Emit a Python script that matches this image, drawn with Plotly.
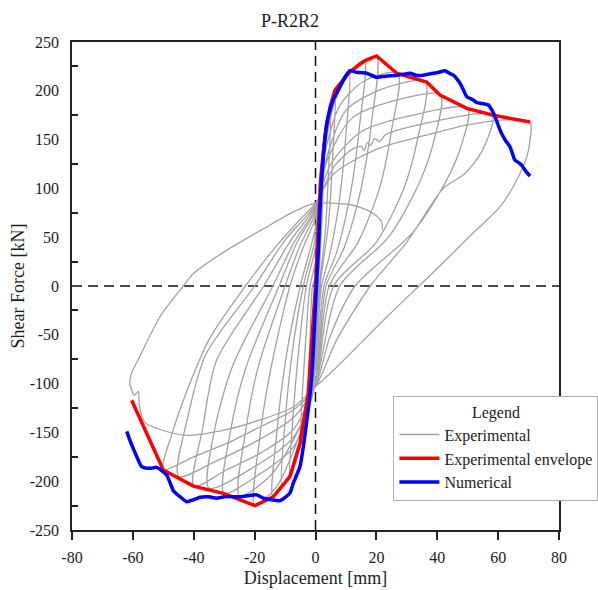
import plotly.graph_objects as go

# Experimental hysteresis loops: (displacement [mm], shear force [kN]) per cycle
cycle_01 = [(0, 0), (0.6, 35), (1.3, 75), (2, 108), (1.5, 50), (0.5, 0), (0, -20), (-1.2, -70),
            (-2.4, -110), (-1.8, -55), (-1, 0), (0, 10)]
cycle_02 = [(0, 10), (0.8, 70), (1.8, 120), (3, 153), (2.4, 90), (1.6, 35), (0.8, 0), (0, -40),
            (-1.5, -95), (-3.2, -135), (-5, -161), (-4.2, -105), (-3, -45), (-1.8, 0), (0, 25)]
cycle_03 = [(0, 25), (1, 90), (2.5, 145), (5, 184), (4.3, 120), (3.2, 55), (1.2, 0), (0, -55),
            (-2, -115), (-5, -165), (-8.4, -195), (-7.4, -135), (-5.5, -65), (-3, 0), (0, 40)]
cycle_04 = [(0, 40), (1.2, 100), (3, 155), (6.5, 201), (5.7, 135), (4.3, 65), (1.5, 0), (0, -65),
            (-2.5, -125), (-6, -175), (-11, -205), (-10, -140), (-7.5, -65), (-4, 0), (0, 50)]
cycle_05 = [(0, 50), (1.5, 115), (4, 170), (7.5, 205), (11, 220), (10, 155), (7.5, 80), (4.5, 30),
            (2, 0), (0, -75), (-3, -135), (-8, -190), (-14, -216), (-12.7, -150), (-9.5, -70),
            (-5, 0), (0, 60)]
cycle_06 = [(0, 60), (2, 125), (5, 180), (10, 215), (16, 231), (14.5, 165), (11.5, 95), (7, 35),
            (2.8, 0), (0, -85), (-5, -150), (-12.7, -205), (-20, -225), (-18.5, -160), (-15, -90),
            (-8.4, 0), (-4, 40), (0, 70)]
cycle_07 = [(0, 70), (2.5, 130), (6.5, 190), (13, 225), (20, 235), (18.5, 170), (15, 100),
            (9.5, 40), (3.5, 0), (0, -95), (-6, -150), (-15, -195), (-25, -215), (-23, -150),
            (-19, -85), (-10, 0), (-5, 42), (0, 75)]
cycle_08 = [(0, 75), (3, 135), (8, 185), (16, 210), (27, 218), (25, 160), (21, 100), (14, 45),
            (4.5, 0), (0, -100), (-7.3, -165), (-18, -192), (-30, -212), (-28, -150), (-23, -85),
            (-12, 0), (-6, 45), (0, 78)]
cycle_09 = [(0, 78), (4, 135), (10, 180), (22, 202), (36, 209), (33.5, 150), (29, 100), (20, 45),
            (6, 0), (0, -100), (-7.3, -155), (-20, -185), (-35, -207), (-33, -145), (-27, -80),
            (-14, 0), (-7, 45), (0, 80)]
cycle_10 = [(0, 80), (4, 130), (12, 172), (26, 190), (41, 196), (39, 150), (34, 105), (24, 50),
            (8, 0), (0, -100), (-7.3, -147), (-18, -171), (-29, -188), (-40, -205), (-37, -145),
            (-32.5, -76), (-17, 0), (-8.5, 45), (0, 82)]
cycle_11 = [(0, 82), (5, 125), (15, 158), (32, 175), (50, 182), (48, 145), (43, 108), (32, 55),
            (13, 0), (5, -50), (0, -102), (-7.3, -135), (-20, -160), (-33, -180), (-45, -195),
            (-42, -135), (-36, -70), (-20, 0), (-10, 47), (0, 83)]
cycle_12 = [(0, 83), (6, 122), (12, 140), (15, 143), (16, 139), (17, 147), (18, 144), (19.5, 151),
            (21, 148), (23, 155), (38, 168), (58, 175), (55, 140), (49, 115), (42, 100), (30, 45),
            (18, 0), (7, -55), (0, -103), (-7.3, -127), (-18, -144), (-29, -161), (-40, -175),
            (-50, -188), (-47, -150), (-43.4, -117), (-35, -55), (-23, 0), (-13.9, 37), (-6, 65),
            (0, 85)]
cycle_13 = [(0, 85), (6, 115), (20, 140), (37, 155), (50, 165), (61, 170), (70.5, 168),
            (70.5, 150), (69.4, 132), (65, 102), (60.6, 81), (52, 55), (42, 24), (34, 0),
            (24, -30), (15, -58), (6, -86), (0, -103), (-7.3, -124), (-18, -137), (-29, -147),
            (-42, -153), (-52, -146), (-56, -140), (-57.5, -128), (-58, -118), (-58.2, -108),
            (-59.5, -112), (-61, -100), (-60.5, -90), (-57.7, -72), (-51, -31), (-43.4, 0),
            (-40, 13), (-29, 37), (-18, 57), (-7.3, 76), (0, 85)]
final_branch = [(0, 85), (5.8, 85), (12, 83), (16.8, 78), (20, 72), (21.7, 66), (22, 58)]

# Experimental envelope
envelope_disp = [-60.4, -50, -40.1, -30.3, -19.9, -13.9, -8.4, -5.1, -2.4, 0, 1.7, 3.1, 4.8, 6.4,
                 11.3, 16.3, 20.1, 26.7, 36.5, 40.9, 49.7, 58.4, 70.5]
envelope_force = [-117, -188.5, -205, -212.4, -225, -216, -195.4, -161, -110, 0, 108.6, 153,
                  183.7, 200.8, 219.6, 231, 235.7, 218, 209, 195.7, 182, 175, 168]

# Numerical pushover response
numerical_disp = [-62, -61, -58.7, -57.1, -54.3, -52.2, -48.9, -46.7, -44.5, -42.3, -40.1, -37.9,
                  -35, -32.5, -30, -28.1, -25, -22.5, -19.3, -17.1, -14.5, -11.7, -8.4, -7.3,
                  -5.1, -4, -2.4, -1.25, 0.3, 1.0, 1.5, 2.5, 3.7, 4.7, 5.8, 7, 8, 9.5, 11.3,
                  13.5, 16.8, 20.1, 23, 26.7, 29, 31, 33, 35.4, 37, 38.7, 40.5, 42.5, 44, 45.3,
                  46.5, 47.5, 48.7, 49.7, 51.8, 53, 54.6, 56.8, 58, 59, 60.6, 62.3, 63.9, 65.5,
                  66.5, 67.7, 69, 70.5]
numerical_force = [-149, -158, -175, -185, -186.8, -185.8, -193.6, -209.7, -215.9, -221, -219,
                   -216.5, -216, -217.5, -216, -215.8, -216, -215, -214, -217.5, -219, -220,
                   -212, -202, -185, -164.6, -127, -93, 0, 40, 80, 130, 166.7, 180, 190.6, 198,
                   204, 213, 220.6, 219, 218, 213.8, 215, 216, 217, 218, 216, 216, 217, 218,
                   219, 220.6, 218, 216, 212, 207.7, 200, 194, 190.6, 188, 187, 185.5, 180,
                   173.5, 160, 149.6, 142.7, 129, 127, 124, 118, 112.7]

x_ticks = [-80, -60, -40, -20, 0, 20, 40, 60, 80]
y_ticks = [-250, -200, -150, -100, -50, 0, 50, 100, 150, 200, 250]
y_minor_ticks = [-225, -175, -125, -75, -25, 25, 75, 125, 175, 225]

FONT = "Liberation Serif"
INK = "#1c1c24"

# join the cycles into one continuous test record
cycles = [cycle_01, cycle_02, cycle_03, cycle_04, cycle_05, cycle_06, cycle_07, cycle_08,
          cycle_09, cycle_10, cycle_11, cycle_12, cycle_13, final_branch]
exp_x, exp_y = [], []
for i, cyc in enumerate(cycles):
    pts = cyc if i == 0 else cyc[1:]
    exp_x += [p[0] for p in pts]
    exp_y += [p[1] for p in pts]

fig = go.Figure()
fig.add_trace(go.Scatter(
    x=exp_x, y=exp_y, mode="lines", name="Experimental",
    line=dict(color="#a3a3a3", width=1.3, shape="spline", smoothing=0.8)))
fig.add_trace(go.Scatter(
    x=envelope_disp, y=envelope_force, mode="lines", name="Experimental envelope",
    line=dict(color="#ff0000", width=3.5)))
fig.add_trace(go.Scatter(
    x=numerical_disp, y=numerical_force, mode="lines", name="Numerical",
    line=dict(color="#0000ff", width=3.5, shape="spline", smoothing=0.6)))

# dashed zero reference lines
fig.add_shape(type="line", xref="x", yref="paper", x0=0, x1=0, y0=0, y1=1,
              line=dict(color="#111", width=1.5, dash="10px,6px"), layer="below")
fig.add_shape(type="line", xref="paper", yref="y", x0=0, x1=1, y0=0, y1=0,
              line=dict(color="#111", width=1.5, dash="10px,6px"), layer="below")

# plain hyphen-minus on the tick labels
x_text = [str(v) for v in x_ticks]
y_text = [str(v) for v in y_ticks]

fig.update_layout(
    width=598, height=590,
    margin=dict(l=72, r=39, t=42, b=60, autoexpand=False),
    paper_bgcolor="white", plot_bgcolor="white",
    font=dict(family=FONT, size=16, color=INK),
    title=dict(text="P-R2R2", x=0.485, xanchor="center", y=0.965, yanchor="middle",
               yref="container", font=dict(family=FONT, size=18, color=INK)),
    xaxis=dict(range=[-80, 80], tickmode="array", tickvals=x_ticks, ticktext=x_text,
               ticks="outside", ticklen=8, tickwidth=1.5, tickcolor="#222",
               showline=True, linecolor="#222", linewidth=1.5, mirror=True,
               showgrid=False, zeroline=False, ticklabelstandoff=4, automargin=False,
               tickfont=dict(family=FONT, size=16, color=INK),
               title=dict(text="Displacement [mm]", standoff=6,
                          font=dict(family=FONT, size=18, color=INK))),
    yaxis=dict(range=[-250, 250], tickmode="array", tickvals=y_ticks, ticktext=y_text, ticks="",
               minor=dict(tickmode="array", tickvals=y_minor_ticks, ticks="inside",
                          ticklen=6, tickwidth=1.5, tickcolor="#222", showgrid=False),
               showline=True, linecolor="#222", linewidth=1.5, mirror=True,
               showgrid=False, zeroline=False, ticklabelstandoff=8, automargin=False,
               tickfont=dict(family=FONT, size=16, color=INK),
               title=dict(text="Shear Force [kN]", standoff=0,
                          font=dict(family=FONT, size=18, color=INK))),
    showlegend=True,
    legend=dict(x=0.66, y=0.275, xanchor="left", yanchor="top",
                bgcolor="white", bordercolor="#b0b0b0", borderwidth=1,
                itemwidth=40,
                font=dict(family=FONT, size=16, color=INK),
                title=dict(text="Legend", side="top center",
                           font=dict(family=FONT, size=16, color=INK)),
                tracegroupgap=0),
)

fig.write_html("out.html")
